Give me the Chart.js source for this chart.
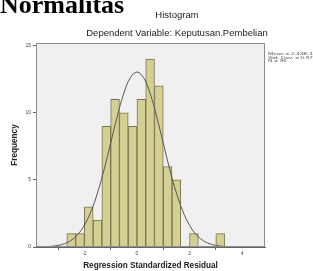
<!DOCTYPE html>
<html>
<head>
<meta charset="utf-8">
<script src="https://cdn.jsdelivr.net/npm/chart.js@4.4.1/dist/chart.umd.min.js"></script>
<style>
  html, body { margin: 0; padding: 0; background: #fff; }
  #wrap { position: relative; width: 313px; height: 271px; overflow: hidden; }
  #chart { position: absolute; left: 0; top: 0; }
  .txt { position: absolute; font-family: 'Liberation Sans', Arial, sans-serif; color: #222; white-space: nowrap; }
  #page-title { left: 0; top: -10px; font-family: 'Liberation Serif', 'Times New Roman', serif; font-weight: bold; font-size: 26px; color: #000; }
  #hist-title { left: 177px; top: 9px; transform: translateX(-50%); font-size: 9.5px; }
  #sub-title { left: 177px; top: 27px; transform: translateX(-50%); font-size: 9.5px; }
  #stats { left: 268px; top: 52px; font-size: 6.3px; line-height: 5.3px; color: #555; transform: scale(1, 0.65); transform-origin: 0 0; }
</style>
</head>
<body>
<div id="wrap">
  <canvas id="chart" width="313" height="271"></canvas>
  <div id="page-title" class="txt">Normalitas</div>
  <div id="hist-title" class="txt">Histogram</div>
  <div id="sub-title" class="txt">Dependent Variable: Keputusan.Pembelian</div>
  <div id="stats" class="txt">Mean = 2.43E-15<br>Std. Dev. = 0.979<br>N = 96</div>
</div>
<script>
// histogram bins (width 1/3), centres and counts
const binCenters = [-2.5, -2.1667, -1.8333, -1.5, -1.1667, -0.8333, -0.5, -0.1667, 0.1667,
  0.5, 0.8333, 1.1667, 1.5, 1.8333, 2.1667, 2.5, 2.8333, 3.1667];
const binCounts = [1, 1, 3, 2, 9, 11, 10, 9, 11, 14, 12, 6, 5, 0, 1, 0, 0, 1];

// fitted normal curve
const curveX = [-3.75, -3.5, -3.25, -3, -2.75, -2.5, -2.25, -2, -1.75, -1.5, -1.25, -1, -0.75, -0.5, -0.25, 0,
  0.25, 0.5, 0.75, 1, 1.25, 1.5, 1.75, 2, 2.25, 2.5, 2.75, 3, 3.25, 3.5, 3.75, 4, 4.25, 4.5, 4.75];
const curveY = [0.01, 0.02, 0.05, 0.12, 0.25, 0.5, 0.93, 1.62, 2.64, 4.03, 5.77, 7.74, 9.72, 11.45, 12.62, 13.04,
  12.62, 11.45, 9.72, 7.74, 5.77, 4.03, 2.64, 1.62, 0.93, 0.5, 0.25, 0.12, 0.05, 0.02, 0.01, 0, 0, 0, 0];

const xTicks = [-2, 0, 2, 4];
const yTicks = [0, 5, 10, 15];

const tickFont = { family: 'Liberation Sans', size: 5 };
const titleFont = { family: 'Liberation Sans', size: 8.2, weight: 'bold' };

// plot background and frame like SPSS output
const frame = {
  id: 'frame',
  beforeDraw(chart) {
    const { ctx, chartArea: a } = chart;
    ctx.save();
    ctx.fillStyle = '#f0f0f0';
    ctx.fillRect(a.left, a.top, a.right - a.left, a.bottom - a.top);
    ctx.restore();
  },
  afterDraw(chart) {
    const { ctx, chartArea: a } = chart;
    ctx.save();
    ctx.strokeStyle = '#8c8c8c';
    ctx.lineWidth = 1;
    ctx.strokeRect(a.left + 0.5, a.top + 0.5, a.right - a.left - 1, a.bottom - a.top - 1);
    ctx.restore();
  }
};

new Chart(document.getElementById('chart'), {
  type: 'bar',
  data: {
    datasets: [
      {
        type: 'bar',
        data: binCenters.map((x, i) => ({ x: x, y: binCounts[i] || null })),
        backgroundColor: '#d4cf93',
        borderColor: '#77734f',
        borderWidth: 1,
        borderSkipped: 'start',
        barPercentage: 1,
        categoryPercentage: 1,
        order: 2
      },
      {
        type: 'line',
        data: curveX.map((x, i) => ({ x: x, y: curveY[i] })),
        borderColor: '#555555',
        borderWidth: 1,
        pointRadius: 0,
        tension: 0.4,
        fill: false,
        order: 1
      }
    ]
  },
  options: {
    responsive: false,
    animation: false,
    layout: { padding: { left: 0, right: 48, top: 43, bottom: 0 } },
    plugins: {
      legend: { display: false },
      tooltip: { enabled: false }
    },
    scales: {
      x: {
        type: 'linear',
        offset: false,
        min: -3.84,
        max: 4.87,
        afterFit(s) { s.height = 24; },
        afterBuildTicks(s) { s.ticks = xTicks.map(v => ({ value: v })); },
        grid: { drawOnChartArea: false, tickLength: 3, color: '#666' },
        border: { display: true, color: '#666' },
        ticks: { font: tickFont, color: '#444', padding: 1, maxRotation: 0 },
        title: {
          display: true,
          text: 'Regression Standardized Residual',
          font: titleFont,
          color: '#222',
          padding: { top: 2, bottom: 0 }
        }
      },
      y: {
        min: 0,
        max: 15.2,
        afterFit(s) { s.width = 36; },
        afterBuildTicks(s) { s.ticks = yTicks.map(v => ({ value: v })); },
        grid: { drawOnChartArea: false, tickLength: 3, color: '#666' },
        border: { display: true, color: '#666' },
        ticks: { font: tickFont, color: '#444', padding: 2 },
        title: {
          display: true,
          text: 'Frequency',
          font: titleFont,
          color: '#222',
          padding: { top: 10, bottom: 0 }
        }
      }
    }
  },
  plugins: [frame]
});
</script>
</body>
</html>
